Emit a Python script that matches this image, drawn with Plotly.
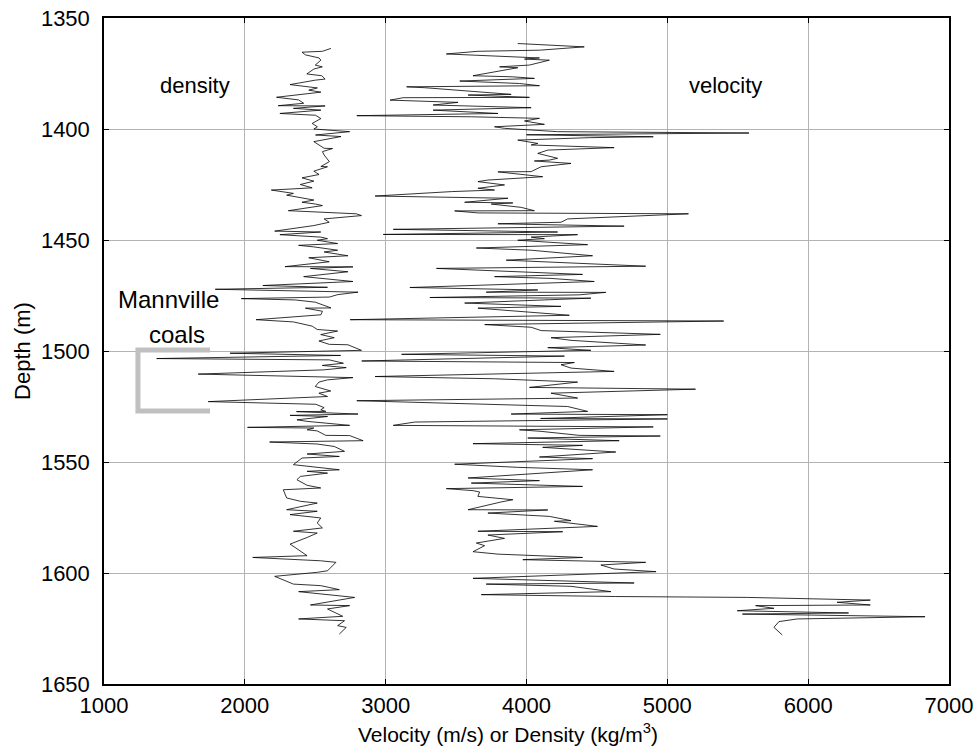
import plotly.graph_objects as go

# ---------------- well-log samples ----------------
density_depth = [
    1363.7, 1365.0, 1365.4, 1366.6, 1368.0, 1369.0, 1371.2, 1372.0, 1373.0, 1375.2,
    1376.0, 1377.5, 1378.0, 1380.0, 1381.5, 1382.5, 1383.4, 1385.7, 1386.9, 1388.4,
    1389.5, 1389.6, 1390.7, 1391.5, 1393.0, 1393.8, 1395.3, 1397.5, 1399.0, 1400.0,
    1401.2, 1402.7, 1403.4, 1405.4, 1405.7, 1408.7, 1408.8, 1410.2, 1411.7, 1414.7,
    1416.9, 1417.0, 1419.0, 1420.5, 1422.0, 1423.5, 1425.0, 1426.5, 1427.5, 1429.0,
    1429.8, 1432.0, 1433.0, 1433.8, 1434.5, 1436.8, 1438.2, 1439.0, 1440.5, 1442.0,
    1443.5, 1446.0, 1446.4, 1447.6, 1448.7, 1449.4, 1450.1, 1451.6, 1452.4, 1453.1,
    1454.6, 1455.4, 1457.1, 1458.0, 1459.8, 1462.0, 1462.1, 1462.8, 1464.3, 1466.5,
    1468.7, 1470.5, 1471.3, 1472.2, 1473.5, 1474.6, 1475.7, 1476.4, 1477.0, 1478.0,
    1480.6, 1480.7, 1482.1, 1483.7, 1485.9, 1486.9, 1488.8, 1490.3, 1491.0, 1492.6,
    1494.0, 1495.5, 1497.0, 1497.2, 1499.7, 1501.0, 1502.0, 1503.4, 1504.0, 1505.5,
    1506.5, 1507.5, 1508.5, 1510.4, 1512.0, 1513.0, 1514.0, 1516.0, 1517.0, 1518.0,
    1519.0, 1520.5, 1522.8, 1524.0, 1525.5, 1526.5, 1527.2, 1527.3, 1528.4, 1529.0,
    1529.5, 1531.0, 1531.7, 1533.5, 1534.4, 1534.7, 1535.5, 1536.0, 1538.0, 1538.1,
    1540.4, 1541.0, 1541.9, 1543.0, 1545.2, 1546.4, 1547.5, 1548.2, 1551.2, 1553.5,
    1554.2, 1555.0, 1556.5, 1558.0, 1560.5, 1561.7, 1562.5, 1566.2, 1567.7, 1568.5,
    1571.5, 1572.2, 1573.7, 1575.2, 1577.5, 1579.7, 1581.2, 1582.0, 1584.0, 1587.0,
    1588.5, 1592.2, 1593.0, 1594.5, 1595.2, 1599.0, 1599.7, 1601.5, 1605.0, 1605.7,
    1606.5, 1607.5, 1608.4, 1611.0, 1614.4, 1614.7, 1616.2, 1619.5, 1620.7, 1621.5,
    1623.7, 1624.5, 1627.5,
]
density_value = [
    2611, 2551, 2406, 2430, 2527, 2540, 2500, 2550, 2490, 2440,
    2546, 2570, 2500, 2321, 2515, 2454, 2540, 2225, 2382, 2418,
    2237, 2570, 2345, 2540, 2249, 2502, 2540, 2478, 2515, 2490,
    2744, 2502, 2683, 2515, 2490, 2563, 2623, 2551, 2563, 2600,
    2540, 2587, 2490, 2527, 2406, 2490, 2394, 2478, 2188, 2345,
    2297, 2490, 2406, 2502, 2551, 2309, 2792, 2828, 2563, 2599,
    2490, 2212, 2539, 2249, 2539, 2587, 2514, 2659, 2382, 2490,
    2659, 2563, 2732, 2454, 2599, 2285, 2768, 2466, 2732, 2418,
    2768, 2128, 2587, 1790, 2804, 2660, 2600, 1975, 2358, 2500,
    2612, 2430, 2551, 2540, 2080, 2345, 2478, 2514, 2659, 2539,
    2635, 2526, 2599, 2732, 2828, 1895, 2680, 1374, 2600, 2700,
    2550, 2720, 2560, 1669, 2768, 2587, 2526, 2500, 2563, 2610,
    2526, 2587, 1740, 2504, 2563, 2539, 2575, 2367, 2804, 2321,
    2587, 2370, 2442, 2744, 2019, 2490, 2442, 2514, 2575, 2744,
    2840, 2176, 2514, 2635, 2708, 2442, 2671, 2406, 2345, 2671,
    2442, 2587, 2394, 2370, 2442, 2539, 2273, 2297, 2394, 2514,
    2297, 2514, 2321, 2539, 2514, 2551, 2345, 2514, 2442, 2321,
    2357, 2442, 2056, 2539, 2647, 2587, 2514, 2212, 2345, 2539,
    2599, 2671, 2382, 2780, 2466, 2744, 2587, 2695, 2382, 2708,
    2659, 2720, 2671,
]

velocity_depth = [
    1361.5, 1362.0, 1363.0, 1364.5, 1365.0, 1366.2, 1368.0, 1368.5, 1369.0, 1371.2,
    1372.0, 1372.4, 1375.0, 1376.0, 1376.5, 1377.2, 1378.4, 1379.5, 1380.5, 1381.0,
    1381.4, 1384.4, 1384.7, 1385.75, 1385.9, 1387.0, 1388.0, 1389.2, 1390.4, 1391.5,
    1393.0, 1394.0, 1394.5, 1395.2, 1396.4, 1397.9, 1399.0, 1399.7, 1401.2, 1401.8,
    1402.6, 1403.5, 1403.9, 1405.0, 1406.5, 1407.2, 1408.4, 1409.5, 1411.0, 1413.2,
    1414.0, 1414.4, 1415.5, 1417.0, 1419.2, 1419.3, 1421.5, 1423.0, 1423.7, 1425.2,
    1426.7, 1427.5, 1428.2, 1429.4, 1430.2, 1431.2, 1433.0, 1433.3, 1433.8, 1435.3,
    1436.8, 1436.9, 1437.8, 1438.2, 1440.5, 1442.0, 1442.7, 1443.75, 1445.2, 1446.4,
    1447.5, 1447.6, 1448.7, 1449.4, 1450.1, 1452.1, 1453.6, 1454.6, 1457.1, 1459.1,
    1459.8, 1461.8, 1462.8, 1465.5, 1466.5, 1467.3, 1468.7, 1471.4, 1472.5, 1473.5,
    1473.6, 1474.7, 1475.9, 1476.2, 1476.9, 1478.4, 1479.9, 1480.7, 1483.9, 1485.9,
    1486.5, 1488.1, 1489.3, 1490.8, 1492.5, 1494.0, 1495.2, 1497.3, 1498.5, 1499.7,
    1501.5, 1502.3, 1504.5, 1505.2, 1506.2, 1507.7, 1509.2, 1511.5, 1512.5, 1514.0,
    1516.4, 1517.2, 1519.0, 1521.2, 1522.4, 1525.0, 1527.2, 1528.4, 1528.7, 1530.4,
    1530.6, 1532.0, 1533.5, 1534.2, 1535.5, 1536.2, 1538.0, 1538.3, 1539.2, 1540.4,
    1541.75, 1542.5, 1543.4, 1545.5, 1547.75, 1548.5, 1551.0, 1552.4, 1553.5, 1557.2,
    1558.4, 1559.5, 1561.0, 1562.0, 1562.9, 1563.5, 1565.5, 1567.0, 1568.0, 1571.5,
    1571.6, 1573.0, 1574.5, 1576.4, 1576.7, 1579.0, 1581.2, 1581.4, 1582.9, 1584.4,
    1586.5, 1587.7, 1590.4, 1591.5, 1593.0, 1594.0, 1595.2, 1596.4, 1598.2, 1599.4,
    1602.4, 1604.5, 1605.0, 1606.0, 1608.4, 1609.75, 1610.6, 1611.0, 1612.2, 1613.2,
    1614.4, 1614.7, 1615.9, 1617.0, 1618.0, 1618.5, 1619.7, 1620.7, 1621.9, 1624.5,
    1627.9,
]
velocity_value = [
    3938, 4092, 4410, 4092, 3655, 3431, 4092, 3986, 4162, 4021,
    3809, 3938, 3726, 3620, 3903, 4056, 3526, 3950, 4092, 3149,
    3278, 3891, 3585, 4021, 3125, 3031, 3514, 3337, 4033, 3337,
    3797, 2795, 3608, 4092, 3986, 4127, 3773, 3844, 4221, 5580,
    4000, 4900, 4445, 3938, 4080, 4033, 4622, 4151, 4080, 4221,
    4162, 4056, 4316, 4104, 4033, 3797, 4115, 3726, 3655, 3844,
    3655, 3773, 3467, 3101, 2925, 3868, 3561, 3903, 3750, 3962,
    4056, 3490, 3655, 5150, 4292, 4245, 3797, 4693, 3054, 4221,
    2983, 4363, 4033, 4127, 3938, 4434, 3644, 4033, 4469, 3856,
    4127, 4846, 3361, 4398, 3773, 4174, 4481, 3172, 4080, 3714,
    4563, 4375, 3314, 4457, 4162, 3561, 4245, 3655, 4304, 2748,
    5400, 3703, 4033, 4104, 4950, 4174, 4316, 4846, 4151, 4457,
    3113, 4269, 2830, 4340, 4245, 4316, 4622, 2925, 3773, 4363,
    4021, 5200, 4174, 4363, 2795, 4292, 4434, 3891, 5000, 4100,
    5000, 3207, 3054, 4900, 3950, 4104, 4375, 4950, 4009, 4658,
    3620, 4398, 4115, 4634, 4092, 4469, 3490, 3938, 4469, 3585,
    4092, 3608, 4398, 3431, 3620, 3667, 3655, 3903, 3820, 3585,
    4151, 3726, 4162, 4316, 4198, 4504, 3655, 4257, 3726, 3844,
    3644, 3703, 3620, 3797, 4398, 3974, 4846, 4528, 4622, 4920,
    3620, 4764, 3714, 4316, 4599, 3679, 4634, 5568, 6441, 6205,
    6441, 5627, 5757, 5497, 6287, 5533, 6830, 5922, 5792, 5757,
    5816,
]

# bracket marking the Mannville coal interval
bracket_x = [1753, 1241, 1241, 1753]
bracket_depth = [1499.5, 1499.5, 1527.0, 1527.0]

x_ticks = [1000, 2000, 3000, 4000, 5000, 6000, 7000]
y_ticks = [1350, 1400, 1450, 1500, 1550, 1600, 1650]

FONT = "Liberation Sans, Arial, Helvetica, sans-serif"

fig = go.Figure()
fig.add_trace(go.Scatter(
    x=density_value, y=density_depth, mode="lines",
    line=dict(color="black", width=0.8), name="density", hoverinfo="skip"))
fig.add_trace(go.Scatter(
    x=velocity_value, y=velocity_depth, mode="lines",
    line=dict(color="black", width=0.8), name="velocity", hoverinfo="skip"))
fig.add_trace(go.Scatter(
    x=bracket_x, y=bracket_depth, mode="lines",
    line=dict(color="#c0c0c0", width=5), hoverinfo="skip"))

labels = [
    ("density", 1646, 1380.5, 22),
    ("velocity", 5410, 1380.5, 22),
    ("Mannville", 1460, 1477.0, 24),
    ("coals", 1515, 1492.5, 24),
]
for text, lx, ly, fs in labels:
    fig.add_annotation(x=lx, y=ly, text=text, showarrow=False,
                       font=dict(family=FONT, size=fs, color="black"),
                       xanchor="center", yanchor="middle")

# x-axis title, placed just under the tick labels
fig.add_annotation(xref="paper", yref="paper", x=0.478, y=-0.073,
                   text="Velocity (m/s) or Density (kg/m<sup>3</sup>)", showarrow=False,
                   font=dict(family=FONT, size=21, color="black"),
                   xanchor="center", yanchor="middle")

axis_common = dict(
    showline=True, linecolor="black", linewidth=1.5, mirror="ticks",
    ticks="inside", ticklen=5, tickcolor="black",
    showgrid=True, gridcolor="#b3b3b3", gridwidth=1, zeroline=False,
    tickfont=dict(family=FONT, size=22, color="black"),
    automargin=False,
)

fig.update_xaxes(range=[1000, 7000], tickvals=x_ticks, ticklabelstandoff=1,
                 **axis_common)
fig.update_yaxes(range=[1650, 1350], tickvals=y_ticks, ticklabelstandoff=8,
                 title=dict(text="Depth (m)", font=dict(family=FONT, size=22, color="black"),
                            standoff=4),
                 **axis_common)

fig.update_layout(
    width=977, height=749,
    margin=dict(l=104, r=28, t=18, b=65),
    paper_bgcolor="white", plot_bgcolor="white",
    showlegend=False,
)

fig.write_html("out.html")
